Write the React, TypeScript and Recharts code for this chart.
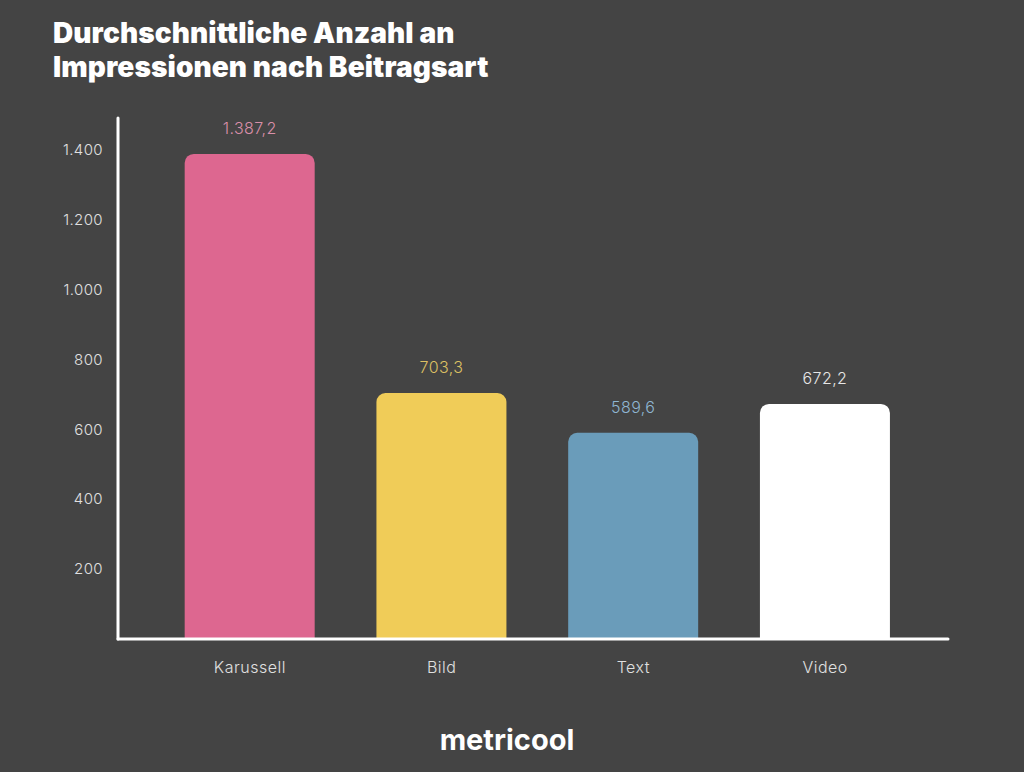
import { BarChart, Bar, XAxis, YAxis, Cell, LabelList } from "recharts";

const categories: string[] = ["Karussell", "Bild", "Text", "Video"];
const impressions: number[] = [1387.2, 703.3, 589.6, 672.2];
const yTicks: number[] = [200, 400, 600, 800, 1000, 1200, 1400];

const BAR_COLORS: string[] = ["#DD6790", "#F0CC58", "#6A9CBA", "#FFFFFF"];
const LABEL_COLORS: string[] = ["#D98FA9", "#DCC063", "#8FB6D2", "#E6E6E6"];

const data = categories.map((name, i) => ({ name, value: impressions[i] }));

function fmtThousands(v: number): string {
  return String(v).replace(/\B(?=(\d{3})+(?!\d))/g, ".");
}

function fmtValue(v: number): string {
  const [int, dec] = v.toFixed(1).split(".");
  return fmtThousands(Number(int)) + "," + dec;
}

const FONT = "Inter, 'Noto Sans', sans-serif";

function ValueLabel(props: any) {
  const { x, y, width, index, value } = props;
  return (
    <text
      x={x + width / 2}
      y={y - 26}
      textAnchor="middle"
      dominantBaseline="central"
      fill={LABEL_COLORS[index]}
      fontSize={16}
      fontWeight={300}
      fontFamily={FONT}
      letterSpacing={0.4}
    >
      {fmtValue(value)}
    </text>
  );
}

export default function App() {
  return (
    <div
      style={{
        position: "absolute",
        left: 0,
        top: 0,
        width: 1024,
        height: 772,
        background: "#444444",
        overflow: "hidden",
        fontFamily: FONT,
      }}
    >
      <div
        style={{
          position: "absolute",
          left: 53,
          top: 16,
          color: "#ffffff",
          fontSize: 28,
          fontWeight: 900,
          lineHeight: "34px",
          letterSpacing: 0.1,
        }}
      >
        Durchschnittliche Anzahl an
        <br />
        Impressionen nach Beitragsart
      </div>
      <div style={{ position: "absolute", left: 0, top: 0 }}>
        <BarChart
          width={1024}
          height={772}
          data={data}
          margin={{ top: 118, right: 76, bottom: 73, left: 0 }}
          barCategoryGap="16%"
        >
          <XAxis
            dataKey="name"
            height={60}
            padding={{ left: 36, right: 27 }}
            axisLine={{ stroke: "#ffffff", strokeWidth: 3, strokeLinecap: "round" }}
            tickLine={false}
            tickSize={0}
            tickMargin={23}
            tick={{ fill: "#E0E0E0", fontSize: 16, fontWeight: 300, fontFamily: FONT, letterSpacing: 0.5 }}
          />
          <YAxis
            width={118}
            domain={[0, 1490]}
            ticks={yTicks}
            interval={0}
            axisLine={{ stroke: "#ffffff", strokeWidth: 3, strokeLinecap: "round" }}
            tickLine={false}
            tickSize={0}
            tickMargin={15}
            tickFormatter={fmtThousands}
            tick={{ fill: "#E0E0E0", fontSize: 15, fontWeight: 300, fontFamily: FONT, letterSpacing: 0.4 }}
          />
          <Bar dataKey="value" radius={[9, 9, 0, 0]} isAnimationActive={false}>
            {data.map((_, i) => (
              <Cell key={`cell-${i}`} fill={BAR_COLORS[i]} />
            ))}
            <LabelList dataKey="value" content={<ValueLabel />} />
          </Bar>
        </BarChart>
      </div>
      <div
        style={{
          position: "absolute",
          left: 0,
          width: 1014,
          top: 722,
          textAlign: "center",
          color: "#ffffff",
          fontSize: 29,
          fontWeight: 700,
          letterSpacing: 0,
        }}
      >
        metricool
      </div>
    </div>
  );
}
